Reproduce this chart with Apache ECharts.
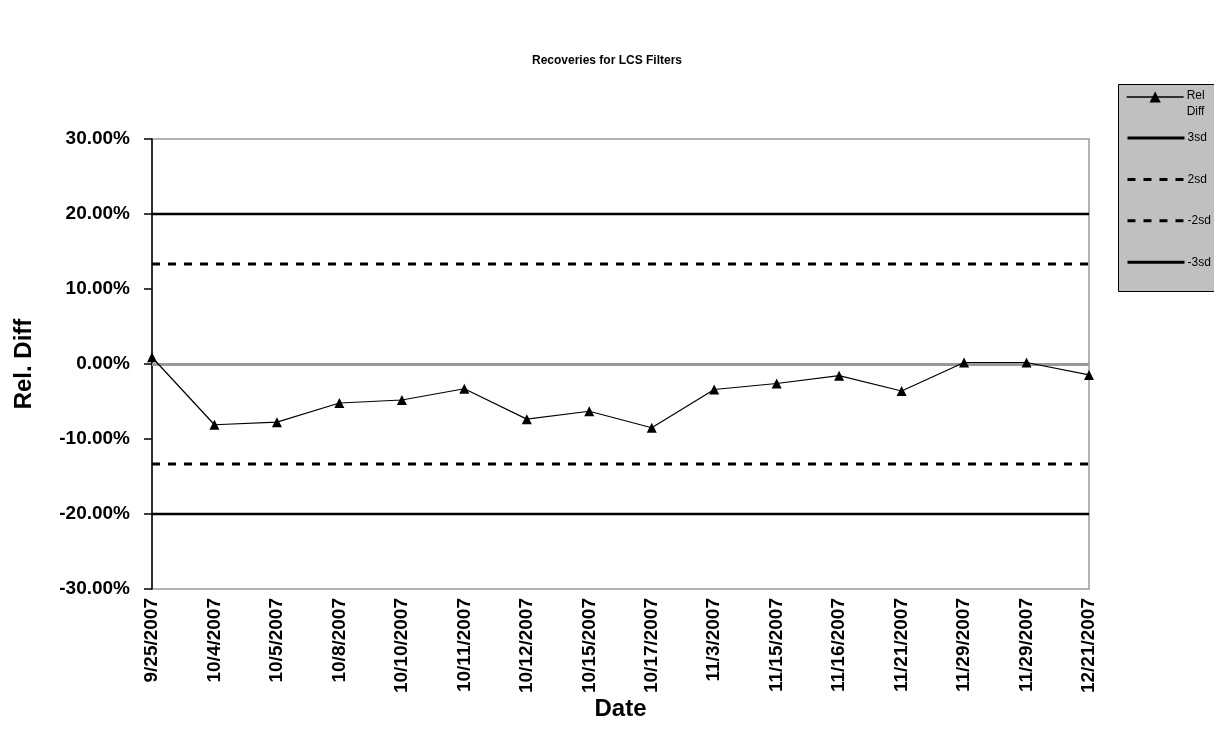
<!DOCTYPE html>
<html>
<head>
<meta charset="utf-8">
<title>Recoveries for LCS Filters</title>
<script src="https://cdn.jsdelivr.net/npm/echarts@6/dist/echarts.min.js"></script>
<style>
  html, body { margin: 0; padding: 0; background: #fff; }
  #chart { width: 1214px; height: 744px; }
</style>
</head>
<body>
<div id="chart"></div>
<script>
// sample dates (category axis)
const dates = ["9/25/2007", "10/4/2007", "10/5/2007", "10/8/2007", "10/10/2007", "10/11/2007",
  "10/12/2007", "10/15/2007", "10/17/2007", "11/3/2007", "11/15/2007", "11/16/2007",
  "11/21/2007", "11/29/2007", "11/29/2007", "12/21/2007"];

// relative difference
const relDiff = [0.009, -0.081, -0.0775, -0.052, -0.048, -0.033, -0.0735, -0.063,
  -0.085, -0.034, -0.026, -0.0155, -0.036, 0.002, 0.002, -0.0145];

// control limits
const plus3sd = [0.2, 0.2, 0.2, 0.2, 0.2, 0.2, 0.2, 0.2, 0.2, 0.2, 0.2, 0.2, 0.2, 0.2, 0.2, 0.2];
const plus2sd = [0.1333, 0.1333, 0.1333, 0.1333, 0.1333, 0.1333, 0.1333, 0.1333,
  0.1333, 0.1333, 0.1333, 0.1333, 0.1333, 0.1333, 0.1333, 0.1333];
const minus2sd = [-0.1333, -0.1333, -0.1333, -0.1333, -0.1333, -0.1333, -0.1333, -0.1333,
  -0.1333, -0.1333, -0.1333, -0.1333, -0.1333, -0.1333, -0.1333, -0.1333];
const minus3sd = [-0.2, -0.2, -0.2, -0.2, -0.2, -0.2, -0.2, -0.2, -0.2, -0.2, -0.2, -0.2, -0.2, -0.2, -0.2, -0.2];

const font = "'Liberation Sans', Arial, sans-serif";

let myChart = echarts.init(document.getElementById("chart"));

function limitSeries(name, data, dashed) {
  return {
    name: name,
    type: "line",
    data: data,
    symbol: "none",
    silent: true,
    lineStyle: { color: "#000", width: dashed ? 3 : 2.5, type: dashed ? [8, 8] : "solid" },
    itemStyle: { color: "#000" },
    z: 3,
  };
}

let option = {
  animation: false,
  backgroundColor: "#fff",
  title: {
    text: "Recoveries for LCS Filters",
    left: "center",
    top: 50,
    textStyle: { fontFamily: font, fontSize: 12, fontWeight: "bold", color: "#000" },
  },
  graphic: [
    {
      // legend frame
      type: "rect",
      left: 1118,
      top: 84,
      shape: { width: 120, height: 207 },
      style: { fill: "#c0c0c0", stroke: "#000", lineWidth: 1 },
      z: 0,
    },
  ],
  legend: [
    {
      data: ["Rel Diff"],
      orient: "vertical",
      left: 1126,
      top: 90,
      padding: 0,
      itemWidth: 57,
      itemHeight: 14,
      lineStyle: { width: 1.3, color: "#000" },
      formatter: function () { return "{a|Rel}\n{b|Diff}"; },
      textStyle: {
        fontFamily: font,
        fontSize: 12,
        color: "#000",
        rich: {
          a: { fontFamily: font, fontSize: 12, color: "#000", lineHeight: 30, padding: [0, 0, 0, -2] },
          b: { fontFamily: font, fontSize: 12, color: "#000", lineHeight: 2, padding: [0, 0, 0, -2] },
        },
      },
      z: 5,
    },
    {
      data: ["3sd", "2sd", "-2sd", "-3sd"],
      orient: "vertical",
      left: 1126,
      top: 132,
      padding: 0,
      itemWidth: 57,
      itemHeight: 14,
      itemGap: 29.4,
      lineStyle: { width: 3 },
      itemStyle: { opacity: 0 },
      textStyle: { fontFamily: font, fontSize: 12, color: "#000", padding: [0, 0, 0, -2] },
      z: 5,
    },
  ],
  grid: {
    left: 152,
    right: 125,
    top: 139,
    bottom: 155,
    show: true,
    borderColor: "#999",
    borderWidth: 1.5,
    backgroundColor: "#fff",
  },
  xAxis: {
    type: "category",
    data: dates,
    boundaryGap: false,
    name: "Date",
    nameLocation: "middle",
    nameGap: 108,
    nameMoveOverlap: false,
    nameTextStyle: { fontFamily: font, fontSize: 24, fontWeight: "bold", color: "#000" },
    axisLine: { show: false },
    axisTick: { show: false },
    axisLabel: {
      rotate: 90,
      interval: 0,
      margin: 9,
      fontFamily: font,
      fontSize: 19,
      fontWeight: "bold",
      color: "#000",
    },
    splitLine: { show: false },
  },
  yAxis: {
    type: "value",
    min: -0.3,
    max: 0.3,
    interval: 0.1,
    name: "Rel. Diff",
    nameLocation: "middle",
    nameGap: 116,
    nameMoveOverlap: false,
    nameTextStyle: { fontFamily: font, fontSize: 24, fontWeight: "bold", color: "#000" },
    axisLine: { show: true, lineStyle: { color: "#000", width: 1.5 } },
    axisTick: { show: true, inside: false, length: 8, lineStyle: { color: "#000", width: 1.5 } },
    axisLabel: {
      margin: 22,
      fontFamily: font,
      fontSize: 19,
      fontWeight: "bold",
      color: "#000",
      formatter: function (v) { return (v * 100).toFixed(2) + "%"; },
    },
    splitLine: { show: false },
  },
  series: [
    {
      name: "Rel Diff",
      type: "line",
      data: relDiff,
      symbol: "triangle",
      symbolSize: 10,
      lineStyle: { color: "#000", width: 1.2 },
      itemStyle: { color: "#000" },
      z: 5,
      markLine: {
        silent: true,
        symbol: "none",
        label: { show: false },
        lineStyle: { color: "#999", width: 3, type: "solid" },
        data: [{ yAxis: 0 }],
        z: 1,
      },
    },
    limitSeries("3sd", plus3sd, false),
    limitSeries("2sd", plus2sd, true),
    limitSeries("-2sd", minus2sd, true),
    limitSeries("-3sd", minus3sd, false),
  ],
};

myChart.setOption(option);
</script>
</body>
</html>
